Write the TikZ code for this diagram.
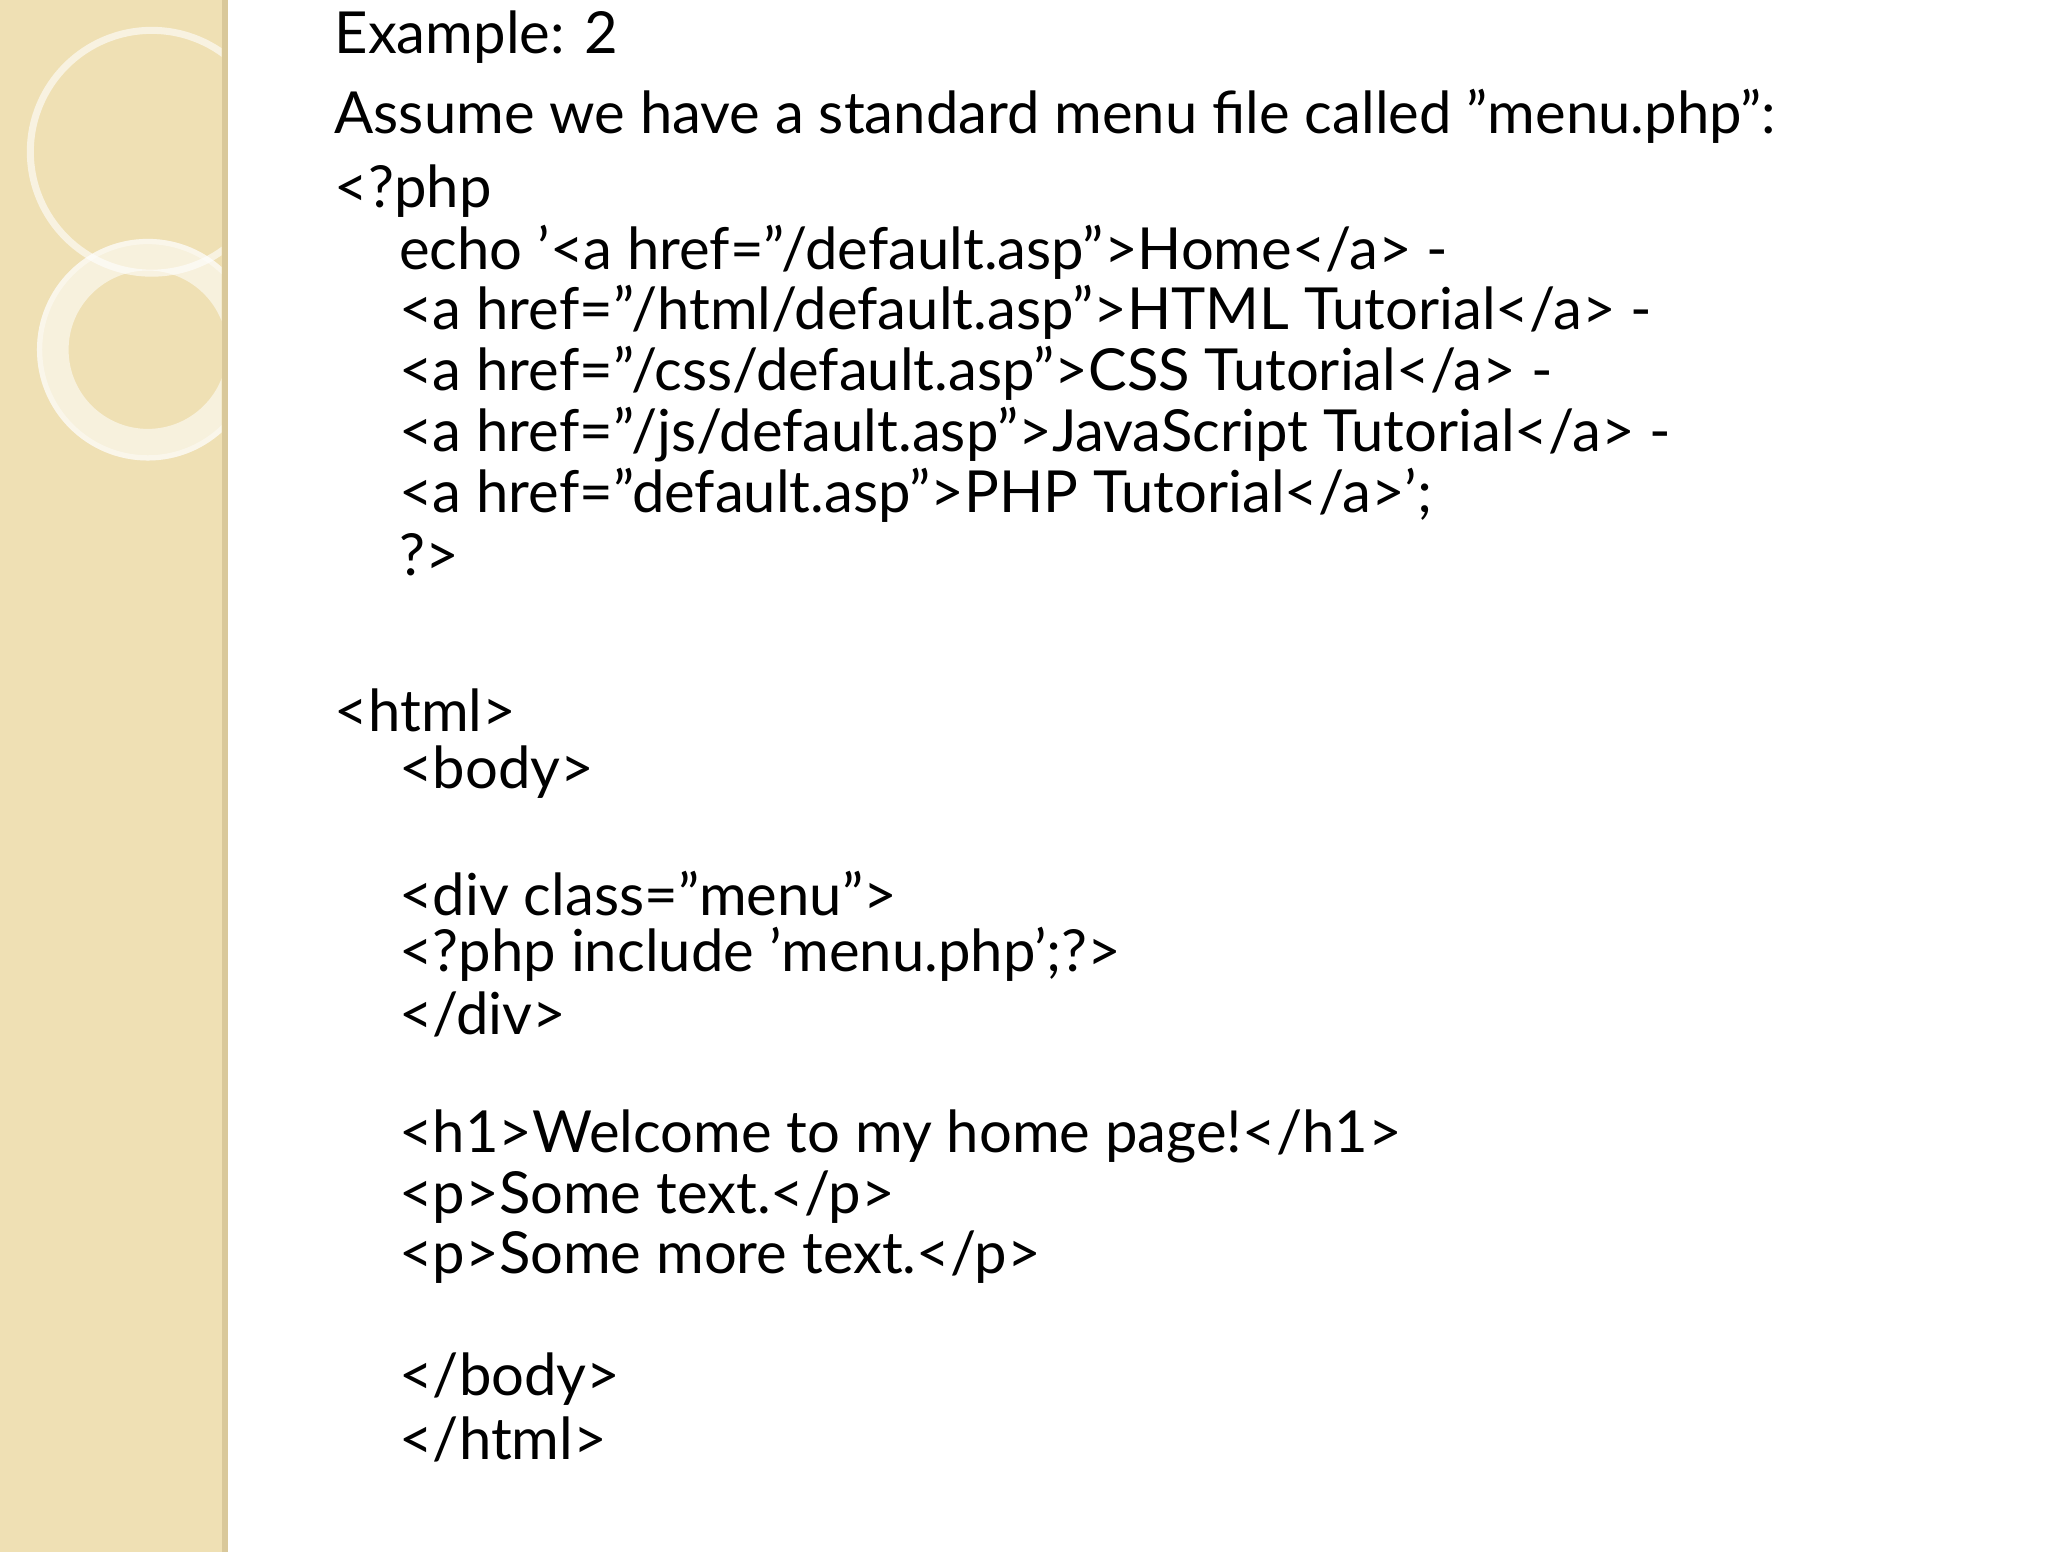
\documentclass[tikz,border=0pt]{standalone}
\usepackage{fontspec}
\setmainfont{Lato}
\definecolor{strip}{HTML}{EFE0B4}
\definecolor{stripedge}{HTML}{D9C89A}
\begin{document}
\begin{tikzpicture}[x=0.013196cm,y=-0.013196cm,
  txt/.style={anchor=west,inner sep=0pt,font=\fontsize{16.5}{20}\selectfont}]
\useasboundingbox (0,0) rectangle (1552,1176);
\fill[white] (0,0) rectangle (1552,1176);
\fill[strip] (0,0) rectangle (173,1176);
\fill[stripedge] (168,0) rectangle (173,1176);
\begin{scope}
\clip (0,0) rectangle (168,1176);
\draw[white,opacity=0.6,line width=2pt] (115,115) circle (92);
\draw[white,opacity=0.55,line width=9pt] (112,265) circle (72);
\draw[white,opacity=0.4,line width=1.5pt] (112,265) circle (82);
\end{scope}
\node[txt] (t1) at (253,28) {Example: 2};
\node[txt] (t2) at (253,88) {Assume we have a standard menu file called "menu.php":};
\node[txt] (t3) at (253,145) {<?php};
\node[txt] (t4) at (302,191) {echo '<a href="/default.asp">Home</a> -};
\node[txt] (t5) at (302,237) {<a href="/html/default.asp">HTML Tutorial</a> -};
\node[txt] (t6) at (302,283) {<a href="/css/default.asp">CSS Tutorial</a> -};
\node[txt] (t7) at (302,329) {<a href="/js/default.asp">JavaScript Tutorial</a> -};
\node[txt] (t8) at (302,375) {<a href="default.asp">PHP Tutorial</a>';};
\node[txt] (t9) at (302,420) {?>};
\node[txt] (t10) at (253,538) {<html>};
\node[txt] (t11) at (302,585) {<body>};
\node[txt] (t12) at (302,677) {<div class="menu">};
\node[txt] (t13) at (302,723) {<?php include 'menu.php';?>};
\node[txt] (t14) at (302,769) {</div>};
\node[txt] (t15) at (302,861) {<h1>Welcome to my home page!</h1>};
\node[txt] (t16) at (302,907) {<p>Some text.</p>};
\node[txt] (t17) at (302,953) {<p>Some more text.</p>};
\node[txt] (t18) at (302,1045) {</body>};
\node[txt] (t19) at (302,1091) {</html>};
\end{tikzpicture}
\end{document}
